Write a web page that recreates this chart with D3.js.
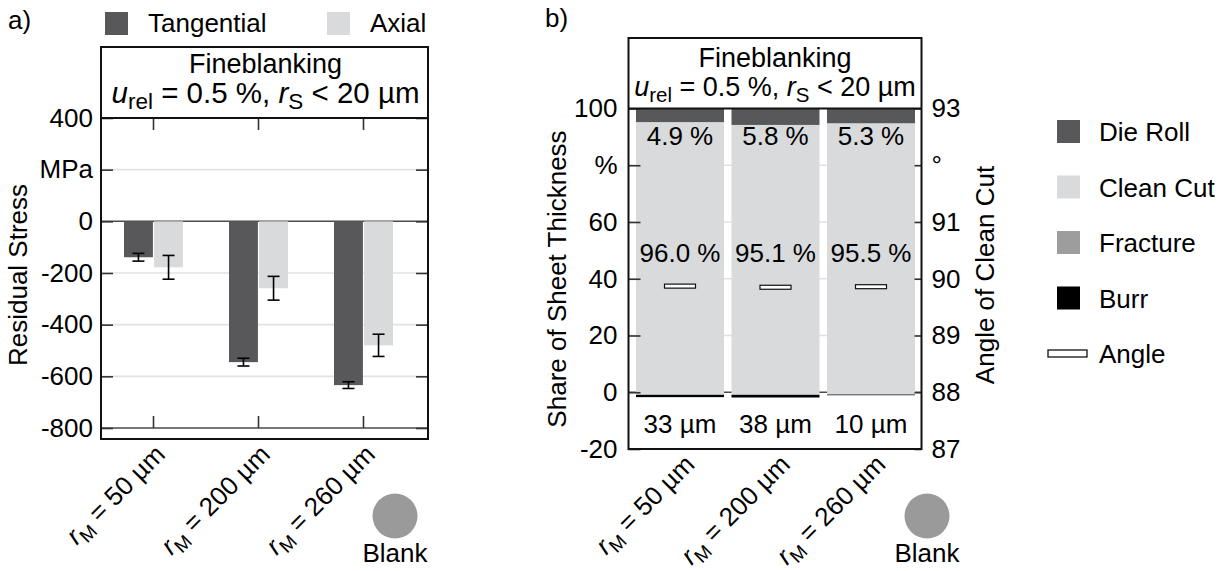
<!DOCTYPE html>
<html>
<head>
<meta charset="utf-8">
<script src="https://cdn.jsdelivr.net/npm/d3@7"></script>
<style>
  html, body { margin: 0; padding: 0; background: #fff; }
  svg { display: block; font-family: "Liberation Sans", Arial, sans-serif; }
</style>
</head>
<body>
<svg id="chart" width="1225" height="571"></svg>
<script>
// ---- panel a: residual stress ----
const categories = ["50", "200", "260"];
const stressSeries = ["Tangential", "Axial"];
const tangential = [-139, -545, -634];
const tangentialErr = [15, 15, 13];
const axial = [-178, -259, -480];
const axialErr = [46, 46, 43];
const stressTicks = [400, 200, 0, -200, -400, -600, -800];

// ---- panel b: cut surface shares ----
const partSeries = ["Die Roll", "Clean Cut", "Fracture", "Burr"];
const dieRoll = [4.9, 5.8, 5.3];
const cleanCut = [96.0, 95.1, 95.5];
const fracture = [0, 0, 0];
const burrHeight = [33, 38, 10];          // µm
const sheetThicknessUm = 4000;            // µm
const cutAngle = [89.87, 89.85, 89.86];   // degrees
const shareTicks = [100, 80, 60, 40, 20, 0, -20];
const angleTicks = [93, 92, 91, 90, 89, 88, 87];

const FS = 26;
const dark = "#58585a", light = "#d9dadc", mid = "#9d9d9d", burrCol = "#000";
const gridCol = "#e2e2e2", zeroCol = "#4a4a4a";

const svg = d3.select("#chart");

// two-line process title; second line sized per panel
function title(g, cx, y1, y2, fs2, sub) {
  g.append("text").attr("x", cx).attr("y", y1).attr("text-anchor", "middle")
    .attr("font-size", 27).text("Fineblanking");
  const t = g.append("text").attr("x", cx).attr("y", y2).attr("text-anchor", "middle")
    .attr("font-size", fs2);
  t.append("tspan").attr("font-style", "italic").text("u");
  t.append("tspan").attr("font-size", sub).attr("dy", 6).text("rel");
  t.append("tspan").attr("dy", -6).text(" = 0.5 %, ");
  t.append("tspan").attr("font-style", "italic").text("r");
  t.append("tspan").attr("font-size", sub).attr("dy", 6).text("S");
  t.append("tspan").attr("dy", -6).text(" < 20 µm");
}

function catLabel(g, x, y, c) {
  const t = g.append("text").attr("transform", `translate(${x},${y}) rotate(-45)`)
    .attr("text-anchor", "end").attr("font-size", FS);
  t.append("tspan").attr("font-style", "italic").text("r");
  t.append("tspan").attr("font-size", 19).attr("dy", 6).text("M");
  t.append("tspan").attr("dy", -6).text(` = ${c} µm`);
}

function blank(g, cx) {
  g.append("circle").attr("cx", cx).attr("cy", 516).attr("r", 22.5).attr("fill", "#9a9a9a");
  g.append("text").attr("x", cx).attr("y", 562).attr("text-anchor", "middle")
    .attr("font-size", FS).text("Blank");
}

// ================= Panel a =================
{
  const L = 101, R = 428, boxTop = 47, plotTop = 118, bottom = 439;
  const g = svg.append("g");
  const y = d3.scaleLinear().domain([-800, 400]).range([428, plotTop]);
  const x = d3.scaleBand().domain(categories).range([L, L + 315]);
  const xs = d3.scaleBand().domain(stressSeries).range([-29.5, 29.5]).paddingInner(0.04);
  const colour = d3.scaleOrdinal().domain(stressSeries).range([dark, light]);

  g.append("text").attr("x", 8).attr("y", 29).attr("font-size", FS).text("a)");

  // legend
  const legX = [105, 327];
  stressSeries.forEach((s, i) => {
    g.append("rect").attr("x", legX[i]).attr("y", 12).attr("width", 23).attr("height", 23)
      .attr("fill", colour(s));
    g.append("text").attr("x", legX[i] + 43).attr("y", 32).attr("font-size", FS).text(s);
  });

  // grid
  g.selectAll("line.grid").data(stressTicks.filter(d => d !== 400)).join("line")
    .attr("x1", L).attr("x2", R).attr("y1", d => y(d)).attr("y2", d => y(d))
    .attr("stroke", d => (d === 0 || d === -800) ? zeroCol : gridCol)
    .attr("stroke-width", d => (d === 0 || d === -800) ? 1.5 : 1.6);

  // bars
  const rows = categories.map((c, i) => [
    { c, s: "Tangential", v: tangential[i], e: tangentialErr[i] },
    { c, s: "Axial", v: axial[i], e: axialErr[i] }
  ]).flat();
  g.selectAll("rect.bar").data(rows).join("rect")
    .attr("x", d => x(d.c) + x.bandwidth() / 2 + xs(d.s))
    .attr("width", xs.bandwidth())
    .attr("y", d => y(Math.max(0, d.v)))
    .attr("height", d => Math.abs(y(d.v) - y(0)))
    .attr("fill", d => colour(d.s));

  // error bars
  const eb = g.selectAll("g.err").data(rows).join("g")
    .attr("transform", d => `translate(${x(d.c) + x.bandwidth() / 2 + xs(d.s) + xs.bandwidth() / 2},0)`);
  eb.append("line").attr("y1", d => y(d.v - d.e)).attr("y2", d => y(d.v + d.e))
    .attr("stroke", "#000").attr("stroke-width", 1.6);
  eb.append("line").attr("x1", -6).attr("x2", 6).attr("y1", d => y(d.v - d.e)).attr("y2", d => y(d.v - d.e))
    .attr("stroke", "#000").attr("stroke-width", 1.6);
  eb.append("line").attr("x1", -6).attr("x2", 6).attr("y1", d => y(d.v + d.e)).attr("y2", d => y(d.v + d.e))
    .attr("stroke", "#000").attr("stroke-width", 1.6);

  // category ticks at top and bottom
  categories.forEach(c => {
    const cx = x(c) + x.bandwidth() / 2;
    g.append("line").attr("x1", cx).attr("x2", cx).attr("y1", plotTop).attr("y2", plotTop + 12)
      .attr("stroke", "#333").attr("stroke-width", 1.6);
    g.append("line").attr("x1", cx).attr("x2", cx).attr("y1", y(-800)).attr("y2", y(-800) - 12)
      .attr("stroke", "#333").attr("stroke-width", 1.6);
    catLabel(g, cx + 13, bottom + 17, c);
  });

  // y axes
  const fmt = d => d === 200 ? "MPa" : String(d);
  const ax = g.append("g").attr("transform", `translate(${L},0)`)
    .call(d3.axisLeft(y).tickValues(stressTicks).tickSize(-12).tickPadding(8).tickFormat(fmt));
  const ax2 = g.append("g").attr("transform", `translate(${R},0)`)
    .call(d3.axisRight(y).tickValues(stressTicks).tickSize(-12).tickFormat(""));
  [ax, ax2].forEach(a => {
    a.select(".domain").remove();
    a.selectAll(".tick line").attr("stroke", "#333").attr("stroke-width", 1.6);
    a.selectAll(".tick text").attr("font-size", FS).attr("font-family", null).attr("fill", "#000");
  });

  // frame and title box
  g.append("rect").attr("x", L).attr("y", boxTop).attr("width", R - L).attr("height", bottom - boxTop)
    .attr("fill", "none").attr("stroke", "#111").attr("stroke-width", 2);
  g.append("line").attr("x1", L).attr("x2", R).attr("y1", plotTop).attr("y2", plotTop)
    .attr("stroke", "#111").attr("stroke-width", 2);
  title(g, (L + R) / 2 + 1, 73, 103, 29.5, 22.5);

  g.append("text").attr("transform", `translate(27,${275}) rotate(-90)`)
    .attr("text-anchor", "middle").attr("font-size", FS).text("Residual Stress");

  blank(g, 395);
}

// ================= Panel b =================
{
  const L = 628.5, R = 921.5, boxTop = 38, plotTop = 108.5, bottom = 449;
  const g = svg.append("g");
  const y = d3.scaleLinear().domain([-20, 100]).range([bottom, plotTop]);
  const ya = d3.scaleLinear().domain([87, 93]).range([bottom, plotTop]);
  const p = 7.5 / 95.5;
  const x = d3.scaleBand().domain(categories).range([632.25, 918.75]).paddingInner(p).paddingOuter(p / 2);
  const colour = d3.scaleOrdinal().domain(partSeries).range([dark, light, mid, burrCol]);

  g.append("text").attr("x", 545).attr("y", 27).attr("font-size", FS).text("b)");

  // grid
  g.selectAll("line.grid").data([80, 60, 40, 20, 0]).join("line")
    .attr("x1", L).attr("x2", R).attr("y1", d => y(d)).attr("y2", d => y(d))
    .attr("stroke", d => d === 0 ? zeroCol : gridCol).attr("stroke-width", 1.6);

  // stacked segments, from the top of the sheet downwards
  const segs = [];
  categories.forEach((c, i) => {
    const parts = [dieRoll[i], cleanCut[i], fracture[i], burrHeight[i] / sheetThicknessUm * 100];
    let top = 100;
    parts.forEach((v, k) => {
      segs.push({ c, s: partSeries[k], y0: top, y1: top - v });
      top -= v;
    });
  });
  g.selectAll("rect.seg").data(segs.filter(d => d.y0 !== d.y1)).join("rect")
    .attr("x", d => x(d.c)).attr("width", x.bandwidth())
    .attr("y", d => y(d.y0)).attr("height", d => y(d.y1) - y(d.y0))
    .attr("fill", d => colour(d.s));

  // value labels
  categories.forEach((c, i) => {
    const cx = x(c) + x.bandwidth() / 2;
    g.append("text").attr("x", cx).attr("y", y(87.1)).attr("text-anchor", "middle")
      .attr("font-size", FS).text(`${dieRoll[i].toFixed(1)} %`);
    g.append("text").attr("x", cx).attr("y", y(45.9)).attr("text-anchor", "middle")
      .attr("font-size", FS).text(`${cleanCut[i].toFixed(1)} %`);
    g.append("text").attr("x", cx).attr("y", y(-14.4)).attr("text-anchor", "middle")
      .attr("font-size", FS).text(`${burrHeight[i]} µm`);
    catLabel(g, cx + 16, bottom + 17, c);
  });

  // angle markers
  g.selectAll("rect.angle").data(categories).join("rect")
    .attr("x", d => x(d) + x.bandwidth() / 2 - 15.5).attr("width", 31)
    .attr("y", (d, i) => ya(cutAngle[i]) - 2).attr("height", 4)
    .attr("fill", "#fff").attr("stroke", "#111").attr("stroke-width", 1.2);

  // axes
  const ax = g.append("g").attr("transform", `translate(${L},0)`)
    .call(d3.axisLeft(y).tickValues(shareTicks).tickSize(-12).tickPadding(11)
      .tickFormat(d => d === 80 ? "%" : String(d)));
  const ax2 = g.append("g").attr("transform", `translate(${R},0)`)
    .call(d3.axisRight(ya).tickValues(angleTicks).tickSize(-7).tickPadding(10)
      .tickFormat(d => d === 92 ? "°" : String(d)));
  [ax, ax2].forEach(a => {
    a.select(".domain").remove();
    a.selectAll(".tick line").attr("stroke", "#333").attr("stroke-width", 1.6);
    a.selectAll(".tick text").attr("font-size", FS).attr("font-family", null).attr("fill", "#000");
  });

  g.append("rect").attr("x", L).attr("y", boxTop).attr("width", R - L).attr("height", bottom - boxTop)
    .attr("fill", "none").attr("stroke", "#111").attr("stroke-width", 2);
  g.append("line").attr("x1", L).attr("x2", R).attr("y1", plotTop).attr("y2", plotTop)
    .attr("stroke", "#111").attr("stroke-width", 2);
  title(g, (L + R) / 2, 67, 96, 27, 20.5);

  g.append("text").attr("transform", `translate(566,279) rotate(-90)`)
    .attr("text-anchor", "middle").attr("font-size", FS).text("Share of Sheet Thickness");
  g.append("text").attr("transform", `translate(994,275) rotate(-90)`)
    .attr("text-anchor", "middle").attr("font-size", FS).text("Angle of Clean Cut");

  blank(g, 927);

  // legend
  const leg = g.append("g");
  partSeries.forEach((s, i) => {
    const cy = 131.5 + i * 55.5;
    leg.append("rect").attr("x", 1057).attr("y", cy - 11.5).attr("width", 23).attr("height", 23)
      .attr("fill", colour(s));
    leg.append("text").attr("x", 1099).attr("y", cy + 9.5).attr("font-size", FS).text(s);
  });
  const cyA = 131.5 + 4 * 55.5;
  leg.append("rect").attr("x", 1048).attr("y", cyA - 3.5).attr("width", 39).attr("height", 7)
    .attr("fill", "#fff").attr("stroke", "#111").attr("stroke-width", 1.3);
  leg.append("text").attr("x", 1099).attr("y", cyA + 9.5).attr("font-size", FS).text("Angle");
}
</script>
</body>
</html>
